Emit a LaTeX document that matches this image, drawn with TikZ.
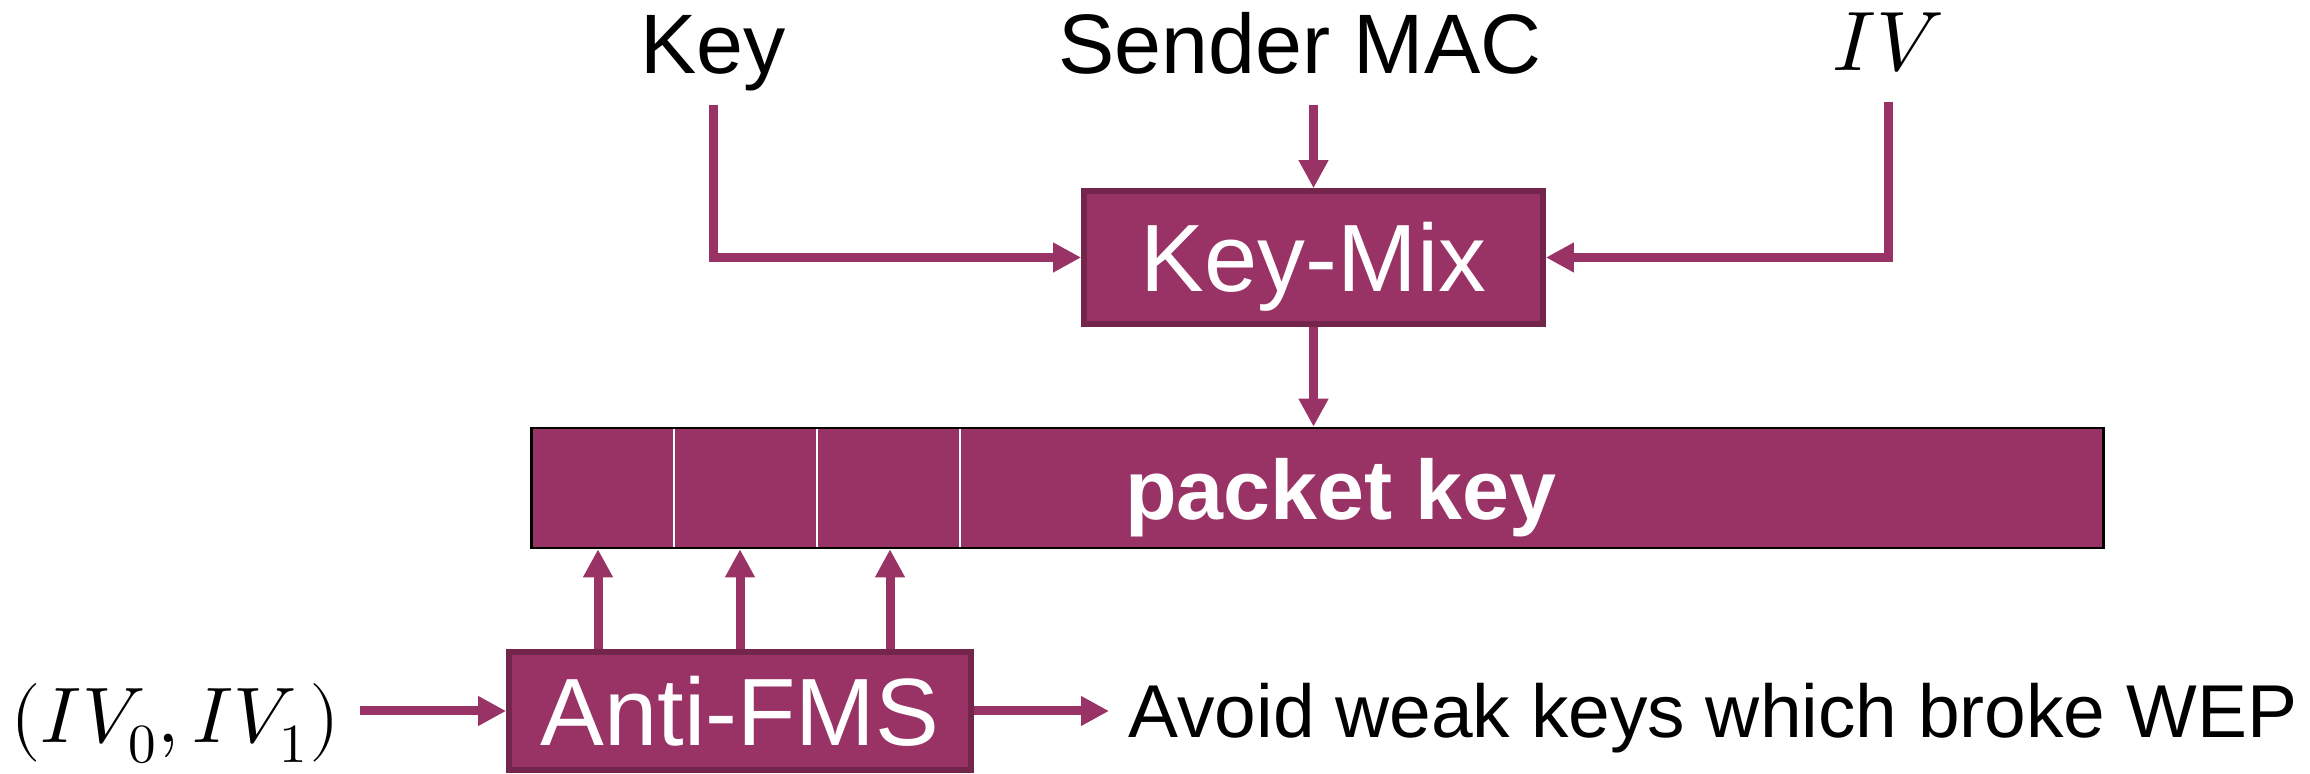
\documentclass[tikz,border=0pt]{standalone}
\usepackage{fontspec}
\usepackage{unicode-math}
\setmainfont{Liberation Sans}
\setmathfont{Latin Modern Math}
\usetikzlibrary{arrows.meta}
\definecolor{plum}{RGB}{153,51,102}
\definecolor{plumdark}{RGB}{115,37,76}

\begin{document}
\begin{tikzpicture}[x=0.01cm,y=-0.01cm,
  conn/.style={draw=plum,line width=0.09cm},
  arr/.style={conn,-{Triangle[length=0.28cm,width=0.28cm]}},
  block/.style={draw=plumdark,fill=plum,line width=0.055cm,text=white,inner sep=0pt,
    font=\fontsize{27.2}{30}\selectfont,text height=0.68cm,text depth=0pt},
  lbl/.style={inner xsep=0pt,inner ysep=0.1cm,text depth=0.2cm,anchor=base,
    font=\fontsize{24}{28}\selectfont}
]
\useasboundingbox (0,0) rectangle (2310,774);

% inputs
\node[lbl] (key) at (713,74) {Key};
\node[lbl] (mac) at (1300,74) {Sender MAC};
\node[lbl] (iv) at (1888,71) {$IV$};

% key mixing block
\node[block,minimum width=4.59cm,minimum height=1.33cm] (kmix) at (1313.5,257.5) {Key-Mix};

% packet key bar
\node[draw=black,fill=plum,line width=0.025cm,minimum width=15.71cm,minimum height=1.20cm,
  inner sep=0pt] (pk) at (1317.5,488) {};
\foreach \x in {674,817,960}
  \draw[white,line width=0.022cm] (\x,429) -- (\x,547);
\node[text=white,font=\bfseries\fontsize{24}{28}\selectfont,anchor=base] (pklabel) at (1341,520) {packet key};

% Anti-FMS block
\node[block,minimum width=4.62cm,minimum height=1.18cm] (afms) at (740,711) {Anti-FMS};

% connectors into Key-Mix
\draw[arr] (key.south) |- (kmix.west);
\draw[arr] (mac.south -| kmix.north) -- (kmix.north);
\draw[arr] (iv.south) |- (kmix.east);
\draw[arr] (kmix.south) -- (kmix.south |- pk.north);

% Anti-FMS feeds the first three bytes
\foreach \x in {598,740,890} {
  \coordinate (t\x) at (\x,0);
  \draw[arr] (t\x |- afms.north) -- (t\x |- pk.south);
}

% IV pair and outcome
\node[font=\fontsize{22.4}{26}\selectfont,anchor=base] (ivs) at (175,743) {$(IV_0,IV_1)$};
\coordinate (ivin) at (360,711);
\draw[arr] (ivin) -- (afms.west);

\node[font=\fontsize{21.3}{25}\selectfont,anchor=base west,inner xsep=0.19cm] (avoid) at (1109,738)
  {Avoid weak keys which broke WEP};
\draw[arr] (afms.east) -- (afms.east -| avoid.west);
\end{tikzpicture}
\end{document}
